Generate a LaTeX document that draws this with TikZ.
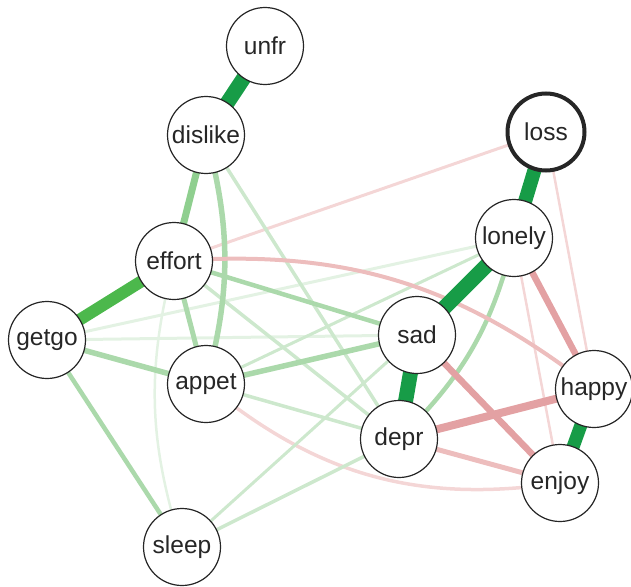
\documentclass[tikz,border=0pt]{standalone}
\usepackage{fontspec}
\setmainfont{Liberation Sans}
\usetikzlibrary{backgrounds}
\definecolor{gA}{HTML}{179C47}
\definecolor{gB}{HTML}{4CB84C}
\definecolor{gC}{HTML}{8FCF8F}
\definecolor{gD}{HTML}{ABD9AB}
\definecolor{gE}{HTML}{CDE8CD}
\definecolor{gF}{HTML}{E3F2E3}
\definecolor{rA}{HTML}{E3A1A3}
\definecolor{rB}{HTML}{EDBDBD}
\definecolor{rC}{HTML}{F4D6D6}
\begin{document}
\begin{tikzpicture}[x=1pt, y=1pt,
  var/.style={circle, draw=black!85, line width=1.2pt, fill=white, minimum size=77pt, inner sep=0pt, text=black!85, font=\fontsize{24.5}{28}\selectfont},
  lossnode/.style={var, line width=4pt}]
\useasboundingbox (0,0) rectangle (631,-586);
\node[var](unfr) at (265,-46){unfr};
\node[var](dislike) at (206,-135){dislike};
\node[lossnode](loss) at (546,-132){loss};
\node[var](effort) at (174,-261){effort};
\node[var](lonely) at (514,-238){lonely};
\node[var](getgo) at (47,-340){getgo};
\node[var](sad) at (417,-335){sad};
\node[var](appet) at (206,-384){appet};
\node[var](happy) at (594,-389){happy};
\node[var](depr) at (399,-439){depr};
\node[var](enjoy) at (560,-483){enjoy};
\node[var](sleep) at (182,-547){sleep};

\begin{scope}[on background layer]
\draw
(getgo.center) edge[gF, line width=3pt] (lonely.center)
(getgo.center) edge[gF, line width=3pt] (sad.center)
(effort.center) edge[gF, line width=2.5pt, bend right=16] (sleep.center)
(loss.center) edge[rC, line width=3pt] (effort.center)
(lonely.center) edge[rC, line width=2.5pt] (enjoy.center)
(loss.center) edge[rC, line width=2.5pt] (happy.center)
(appet.center) edge[rC, line width=3.5pt, bend right=24] (enjoy.center)
(dislike.center) edge[gE, line width=3.5pt] (depr.center)
(effort.center) edge[gE, line width=3.5pt] (depr.center)
(appet.center) edge[gE, line width=3pt] (lonely.center)
(appet.center) edge[gE, line width=3.5pt] (depr.center)
(sleep.center) edge[gE, line width=3pt] (sad.center)
(sleep.center) edge[gE, line width=3.5pt] (depr.center)
(dislike.center) edge[gD, line width=5.5pt, bend left=15] (appet.center)
(effort.center) edge[gD, line width=5pt] (appet.center)
(getgo.center) edge[gD, line width=5.5pt] (appet.center)
(appet.center) edge[gD, line width=5.5pt] (sad.center)
(lonely.center) edge[gD, line width=4.5pt, bend left=16] (depr.center)
(getgo.center) edge[gD, line width=4.5pt] (sleep.center)
(effort.center) edge[gD, line width=4.5pt] (sad.center)
(effort.center) edge[rB, line width=4pt, bend left=21] (happy.center)
(depr.center) edge[rB, line width=5pt] (enjoy.center)
(lonely.center) edge[rA, line width=6.5pt] (happy.center)
(sad.center) edge[rA, line width=6.5pt] (enjoy.center)
(depr.center) edge[rA, line width=8pt] (happy.center)
(dislike.center) edge[gC, line width=7pt] (effort.center)
(effort.center) edge[gB, line width=12pt] (getgo.center)
(unfr.center) edge[gA, line width=15pt] (dislike.center)
(loss.center) edge[gA, line width=14pt] (lonely.center)
(lonely.center) edge[gA, line width=15pt] (sad.center)
(sad.center) edge[gA, line width=15pt] (depr.center)
(happy.center) edge[gA, line width=13pt] (enjoy.center)
;
\end{scope}
\end{tikzpicture}
\end{document}
